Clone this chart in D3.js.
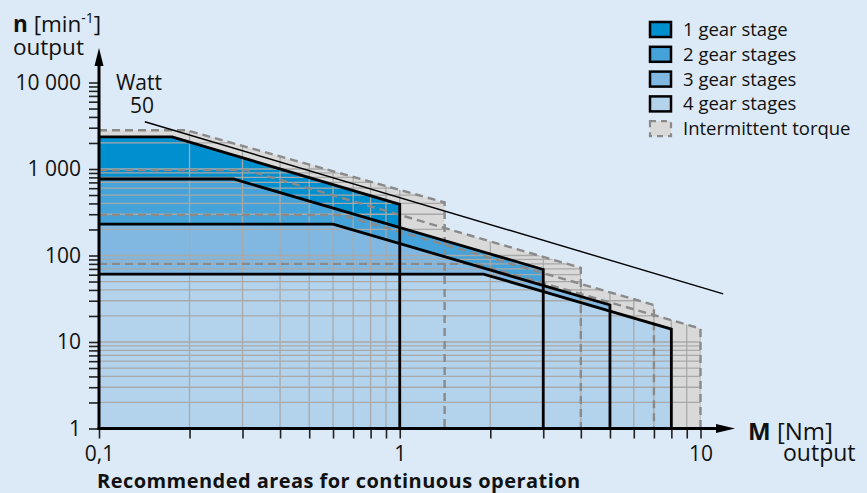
<!DOCTYPE html>
<html>
<head>
<meta charset="utf-8">
<script src="https://cdn.jsdelivr.net/npm/d3@7"></script>
<style>
  body { margin: 0; background: #dce9f6; }
  svg { display: block; font-family: "Open Sans", sans-serif; }
</style>
</head>
<body>
<div id="chart"></div>
<script>
// torque M [Nm] vs speed n [min-1]
const stage1 = [[0.1, 2350], [0.175, 2350], [1, 390]];
const stage2 = [[0.1, 766], [0.28, 766], [3, 69]];
const stage3 = [[0.1, 231], [0.6, 231], [5, 26.8]];
const stage4 = [[0.1, 61], [1.9, 61], [8, 14.1]];

const int1 = [[0.1, 2800], [0.196, 2800], [1.41, 410]];
const int2 = [[0.1, 970], [0.31, 970], [4, 72]];
const int3 = [[0.1, 294], [0.64, 294], [7, 26.8]];
const int4 = [[0.1, 80], [1.8, 80], [10, 14.3]];

const wattLine = [[0.142, 3520], [11.9, 36]];

const xTicks = [0.1, 0.2, 0.3, 0.4, 0.5, 0.6, 0.7, 0.8, 0.9, 1, 2, 3, 4, 5, 6, 7, 8, 9, 10];
const yTicks = [1, 2, 3, 4, 5, 6, 7, 8, 9, 10, 20, 30, 40, 50, 60, 70, 80, 90,
    100, 200, 300, 400, 500, 600, 700, 800, 900, 1000, 2000, 3000, 4000, 5000,
    6000, 7000, 8000, 9000, 10000];
const xLabels = { 0.1: '0,1', 1: '1', 10: '10' };
const yLabels = { 1: '1', 10: '10', 100: '100', 1000: '1 000', 10000: '10 000' };

const legendItems = [
    { label: '1 gear stage', color: '#008fcf' },
    { label: '2 gear stages', color: '#45a3d9' },
    { label: '3 gear stages', color: '#80b8e2' },
    { label: '4 gear stages', color: '#b3d3ed' },
    { label: 'Intermittent torque', color: '#d9d9d9', dashed: true }
];

const width = 867, height = 493;
const stages = [stage1, stage2, stage3, stage4];
const ints = [int1, int2, int3, int4];

const x = d3.scaleLog().domain([0.1, 10]).range([99, 700.5]);
const y = d3.scaleLog().domain([1, 10000]).range([428.5, 82.5]);

const svg = d3.select('#chart').append('svg')
    .attr('width', width)
    .attr('height', height);

svg.append('rect').attr('width', width).attr('height', height).attr('fill', '#dce9f6');

const line = d3.line().x(d => x(d[0])).y(d => y(d[1]));

// closed area under a curve, down to n = 1
const area = pts => line([...pts, [pts[pts.length - 1][0], 1], [0.1, 1]]) + 'Z';
// top edge plus right edge down to the axis
const outline = pts => line([...pts, [pts[pts.length - 1][0], 1]]);

svg.append('defs').append('clipPath').attr('id', 'gridClip')
    .selectAll('path')
    .data(ints)
    .enter().append('path')
    .attr('d', area);

svg.append('g')
    .selectAll('path')
    .data(ints)
    .enter().append('path')
    .attr('d', area)
    .attr('fill', '#d9d9d9');

svg.append('g')
    .selectAll('path')
    .data(stages)
    .enter().append('path')
    .attr('d', area)
    .attr('fill', (d, i) => legendItems[i].color);

// grid only inside the filled areas
const grid = svg.append('g').attr('clip-path', 'url(#gridClip)')
    .attr('stroke', '#a9a9a9')
    .attr('stroke-width', 1.3);

grid.selectAll('.vgrid')
    .data(xTicks.slice(1))
    .enter().append('line')
    .attr('x1', d => x(d)).attr('x2', d => x(d))
    .attr('y1', y(1)).attr('y2', y(10000));

grid.selectAll('.hgrid')
    .data(yTicks.slice(1))
    .enter().append('line')
    .attr('y1', d => y(d)).attr('y2', d => y(d))
    .attr('x1', x(0.1)).attr('x2', x(10));

svg.append('g')
    .selectAll('path')
    .data(ints)
    .enter().append('path')
    .attr('d', outline)
    .attr('fill', 'none')
    .attr('stroke', '#8a8a8a')
    .attr('stroke-width', 2.4)
    .attr('stroke-dasharray', '8,5');

svg.append('g')
    .selectAll('path')
    .data(stages)
    .enter().append('path')
    .attr('d', outline)
    .attr('fill', 'none')
    .attr('stroke', '#000')
    .attr('stroke-width', 2.8)
    .attr('stroke-linejoin', 'miter');

svg.append('path')
    .attr('d', line(wattLine))
    .attr('stroke', '#000')
    .attr('stroke-width', 1.4)
    .attr('fill', 'none');

// axes
const yAxis = svg.append('g')
    .attr('transform', `translate(${x(0.1)},0)`)
    .call(d3.axisLeft(y).tickValues(yTicks).tickSize(10).tickPadding(8)
        .tickFormat(d => yLabels[d] || ''));

const xAxis = svg.append('g')
    .attr('transform', `translate(0,${y(1)})`)
    .call(d3.axisBottom(x).tickValues(xTicks).tickSize(10).tickPadding(8)
        .tickFormat(d => xLabels[d] || ''));

[xAxis, yAxis].forEach(a => {
    a.select('.domain').remove();
    a.selectAll('.tick line').attr('stroke', '#222').attr('stroke-width', 1.6);
    a.selectAll('.tick text')
        .attr('font-family', '"Open Sans", sans-serif')
        .attr('font-size', 21)
        .attr('fill', '#111');
});

svg.append('line')
    .attr('x1', x(0.1)).attr('x2', x(0.1))
    .attr('y1', y(1) + 1.5).attr('y2', 60)
    .attr('stroke', '#000').attr('stroke-width', 3);
svg.append('line')
    .attr('x1', x(0.1) - 1.5).attr('x2', 722)
    .attr('y1', y(1)).attr('y2', y(1))
    .attr('stroke', '#000').attr('stroke-width', 3);

svg.append('path')
    .attr('d', `M${x(0.1)},48 L${x(0.1) - 4.5},66 L${x(0.1) + 4.5},66 Z`)
    .attr('fill', '#000');
svg.append('path')
    .attr('d', `M735,${y(1)} L716,${y(1) - 4.5} L716,${y(1) + 4.5} Z`)
    .attr('fill', '#000');

// axis titles
const yTitle = svg.append('text')
    .attr('x', 13).attr('y', 32)
    .attr('font-size', 22.5)
    .attr('fill', '#111');
yTitle.append('tspan').attr('font-weight', 'bold').text('n');
yTitle.append('tspan').text(' [min');
yTitle.append('tspan').attr('font-size', 14).attr('dy', -9).text('-1');
yTitle.append('tspan').attr('dy', 9).text(']');

svg.append('text')
    .attr('x', 13).attr('y', 55)
    .attr('font-size', 22.5)
    .attr('fill', '#111')
    .text('output');

const xTitle = svg.append('text')
    .attr('x', 748).attr('y', 440)
    .attr('font-size', 24)
    .attr('fill', '#111');
xTitle.append('tspan').attr('font-weight', 'bold').text('M');
xTitle.append('tspan').text(' [Nm]');

svg.append('text')
    .attr('x', 783).attr('y', 461)
    .attr('font-size', 23)
    .attr('fill', '#111')
    .text('output');

svg.append('text')
    .attr('x', 139).attr('y', 90)
    .attr('text-anchor', 'middle')
    .attr('font-size', 21)
    .attr('fill', '#111')
    .text('Watt');
svg.append('text')
    .attr('x', 142).attr('y', 112.5)
    .attr('text-anchor', 'middle')
    .attr('font-size', 21)
    .attr('fill', '#111')
    .text('50');

svg.append('text')
    .attr('x', 97).attr('y', 488)
    .attr('font-size', 20)
    .attr('letter-spacing', 0.45)
    .attr('font-weight', 'bold')
    .attr('fill', '#111')
    .text('Recommended areas for continuous operation');

// legend
const legend = svg.append('g')
    .attr('transform', 'translate(649, 21)');

const entry = legend.selectAll('.legend-item')
    .data(legendItems)
    .enter().append('g')
    .attr('class', 'legend-item')
    .attr('transform', (d, i) => `translate(0, ${i * 24.8})`);

entry.append('rect')
    .attr('x', 1).attr('y', 1)
    .attr('width', 21).attr('height', 15)
    .attr('fill', d => d.color)
    .attr('stroke', d => d.dashed ? '#8a8a8a' : '#000')
    .attr('stroke-width', d => d.dashed ? 2.2 : 2.5)
    .attr('stroke-dasharray', d => d.dashed ? '6,5' : null);

entry.append('text')
    .attr('x', 34)
    .attr('y', 15)
    .attr('font-size', 18.5)
    .attr('fill', '#111')
    .text(d => d.label);
</script>
</body>
</html>
